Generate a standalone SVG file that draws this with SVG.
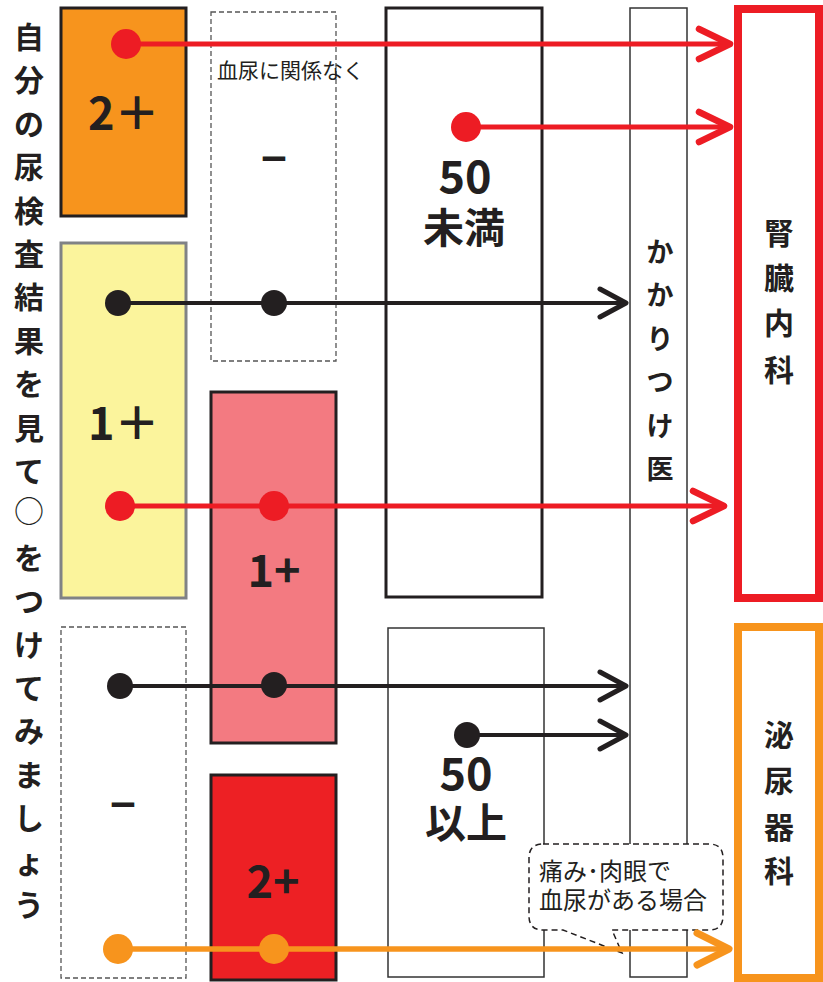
<svg xmlns="http://www.w3.org/2000/svg" width="823" height="982" viewBox="0 0 823 982">
<style>
.jp{font-family:"Noto Sans CJK JP","Noto Sans",sans-serif;fill:#231F20}
.b{font-weight:bold}
.big{font-size:45px;font-weight:bold}
.box{stroke:#231F20;stroke-width:3}
.thin{fill:#fff;stroke:#333;stroke-width:1.5}
.dash{fill:#fff;stroke:#555;stroke-width:1.3;stroke-dasharray:5 3}
.red{stroke:#ED1C24;stroke-width:5;fill:none}
.blk{stroke:#231F20;stroke-width:4;fill:none}
.org{stroke:#F7941D;stroke-width:5.5;fill:none}
</style>
<defs>
<marker id="aR" markerUnits="userSpaceOnUse" viewBox="-40 -22 46 44" markerWidth="46" markerHeight="44" refX="0" refY="0" orient="auto" overflow="visible">
<path d="M-31,-15 L0,0 L-31,15" fill="none" stroke="#ED1C24" stroke-width="6.5" stroke-linecap="round" stroke-linejoin="round"/>
</marker>
<marker id="aK" markerUnits="userSpaceOnUse" viewBox="-40 -22 46 44" markerWidth="46" markerHeight="44" refX="0" refY="0" orient="auto" overflow="visible">
<path d="M-26,-14 L0,0 L-26,14" fill="none" stroke="#231F20" stroke-width="5" stroke-linecap="round" stroke-linejoin="round"/>
</marker>
<marker id="aO" markerUnits="userSpaceOnUse" viewBox="-40 -22 46 44" markerWidth="46" markerHeight="44" refX="0" refY="0" orient="auto" overflow="visible">
<path d="M-32,-16 L0,0 L-32,16" fill="none" stroke="#F7941D" stroke-width="7" stroke-linecap="round" stroke-linejoin="round"/>
</marker>
</defs>
<rect width="823" height="982" fill="#fff"/>

<g id="title">
<text class="jp b" font-size="30" text-anchor="middle">
<tspan x="29" y="48">自</tspan><tspan x="29" y="91.4">分</tspan><tspan x="29" y="134.8">の</tspan><tspan x="29" y="178.2">尿</tspan><tspan x="29" y="221.6">検</tspan><tspan x="29" y="265">査</tspan><tspan x="29" y="308.4">結</tspan><tspan x="29" y="351.8">果</tspan><tspan x="29" y="395.2">を</tspan><tspan x="29" y="438.6">見</tspan><tspan x="29" y="482">て</tspan><tspan x="29" y="522" font-weight="normal">○</tspan><tspan x="29" y="568.8">を</tspan><tspan x="29" y="612.2">つ</tspan><tspan x="29" y="655.6">け</tspan><tspan x="29" y="699">て</tspan><tspan x="29" y="742.4">み</tspan><tspan x="29" y="785.8">ま</tspan><tspan x="29" y="829.2">し</tspan><tspan x="29" y="872.6">ょ</tspan><tspan x="29" y="916">う</tspan>
</text>
</g>

<g id="col1-2plus">
<rect class="box" x="61" y="8" width="125" height="208" fill="#F7941D"/>
<text class="jp big" x="88" y="130">2＋</text>
</g>
<g id="col1-1plus">
<rect x="61" y="243" width="125" height="355" fill="#FBF49C" stroke="#808285" stroke-width="3"/>
<text class="jp big" x="88" y="440">1＋</text>
</g>
<g id="col1-minus">
<rect class="dash" x="61" y="627" width="125" height="351"/>
<text class="jp b" x="123" y="821" font-size="44" text-anchor="middle" font-family="Liberation Sans">−</text>
</g>

<g id="col2-minus">
<rect class="dash" x="211" y="12" width="125" height="349"/>
<text class="jp" x="217" y="78" font-size="21">血尿に関係なく</text>
<text class="jp b" x="274" y="175" font-size="44" text-anchor="middle" font-family="Liberation Sans">−</text>
</g>
<g id="col2-1plus">
<rect class="box" x="211" y="392" width="125" height="351" fill="#F37A81"/>
<text class="jp big" x="274" y="587" text-anchor="middle">1+</text>
</g>
<g id="col2-2plus">
<rect class="box" x="211" y="775" width="125" height="205" fill="#ED2024"/>
<text class="jp big" x="273" y="898" text-anchor="middle">2+</text>
</g>

<g id="col3-under50">
<rect class="box" x="386" y="8" width="156" height="589" fill="#fff"/>
<text class="jp big" x="465" y="193" text-anchor="middle">50</text>
<text class="jp b" x="464" y="243" font-size="41" text-anchor="middle">未満</text>
</g>
<g id="col3-over50">
<rect class="thin" x="388" y="628" width="156" height="349"/>
<text class="jp big" x="466" y="790" text-anchor="middle">50</text>
<text class="jp b" x="466" y="838" font-size="41" text-anchor="middle">以上</text>
</g>

<g id="kakaritsuke">
<rect class="thin" x="630" y="8" width="57" height="969"/>
<text class="jp b" font-size="27" text-anchor="middle">
<tspan x="660" y="262">か</tspan><tspan x="660" y="305">か</tspan><tspan x="660" y="349">り</tspan><tspan x="660" y="392">つ</tspan><tspan x="660" y="436">け</tspan><tspan x="660" y="479">医</tspan>
</text>
</g>

<g id="jinzo">
<rect x="738" y="9" width="81" height="589" fill="#fff" stroke="#ED1C24" stroke-width="8"/>
<text class="jp b" font-size="30" text-anchor="middle">
<tspan x="779" y="244">腎</tspan><tspan x="779" y="289">臓</tspan><tspan x="779" y="334">内</tspan><tspan x="779" y="381">科</tspan>
</text>
</g>
<g id="hinyoki">
<rect x="738" y="627" width="81" height="351" fill="#fff" stroke="#F7941D" stroke-width="8"/>
<text class="jp b" font-size="30" text-anchor="middle">
<tspan x="779" y="746">泌</tspan><tspan x="779" y="792">尿</tspan><tspan x="779" y="838">器</tspan><tspan x="779" y="882">科</tspan>
</text>
</g>

<g id="callout">
<path d="M543,844 H709 Q723,844 723,858 V916 Q723,930 709,930 H612 L622,953 L563,930 H543 Q529,930 529,916 V858 Q529,844 543,844 Z" fill="#fff" stroke="#231F20" stroke-width="1.5" stroke-dasharray="6 4"/>
<text class="jp" font-size="24"><tspan x="539" y="880">痛み･肉眼で</tspan><tspan x="539" y="909">血尿がある場合</tspan></text>
</g>

<g id="connectors">
<line class="red" x1="126" y1="44" x2="730" y2="44" marker-end="url(#aR)"/>
<circle cx="126" cy="44" r="15" fill="#ED1C24"/>
<line class="red" x1="466" y1="127" x2="730" y2="127" marker-end="url(#aR)"/>
<circle cx="466" cy="127" r="15" fill="#ED1C24"/>
<line class="blk" x1="118" y1="303" x2="626" y2="303" marker-end="url(#aK)"/>
<circle cx="118" cy="303" r="13" fill="#231F20"/>
<circle cx="274" cy="303" r="13" fill="#231F20"/>
<line class="red" x1="120" y1="506" x2="724" y2="506" marker-end="url(#aR)"/>
<circle cx="120" cy="506" r="15" fill="#ED1C24"/>
<circle cx="274" cy="506" r="15" fill="#ED1C24"/>
<line class="blk" x1="120" y1="686" x2="626" y2="686" marker-end="url(#aK)"/>
<circle cx="120" cy="686" r="13" fill="#231F20"/>
<circle cx="274" cy="685" r="13" fill="#231F20"/>
<line class="blk" x1="467" y1="735" x2="626" y2="735" marker-end="url(#aK)"/>
<circle cx="467" cy="735" r="13" fill="#231F20"/>
<line class="org" x1="118" y1="949" x2="729" y2="949" marker-end="url(#aO)"/>
<circle cx="118" cy="949" r="15" fill="#F7941D"/>
<circle cx="274" cy="949" r="15" fill="#F7941D"/>
</g>
</svg>
